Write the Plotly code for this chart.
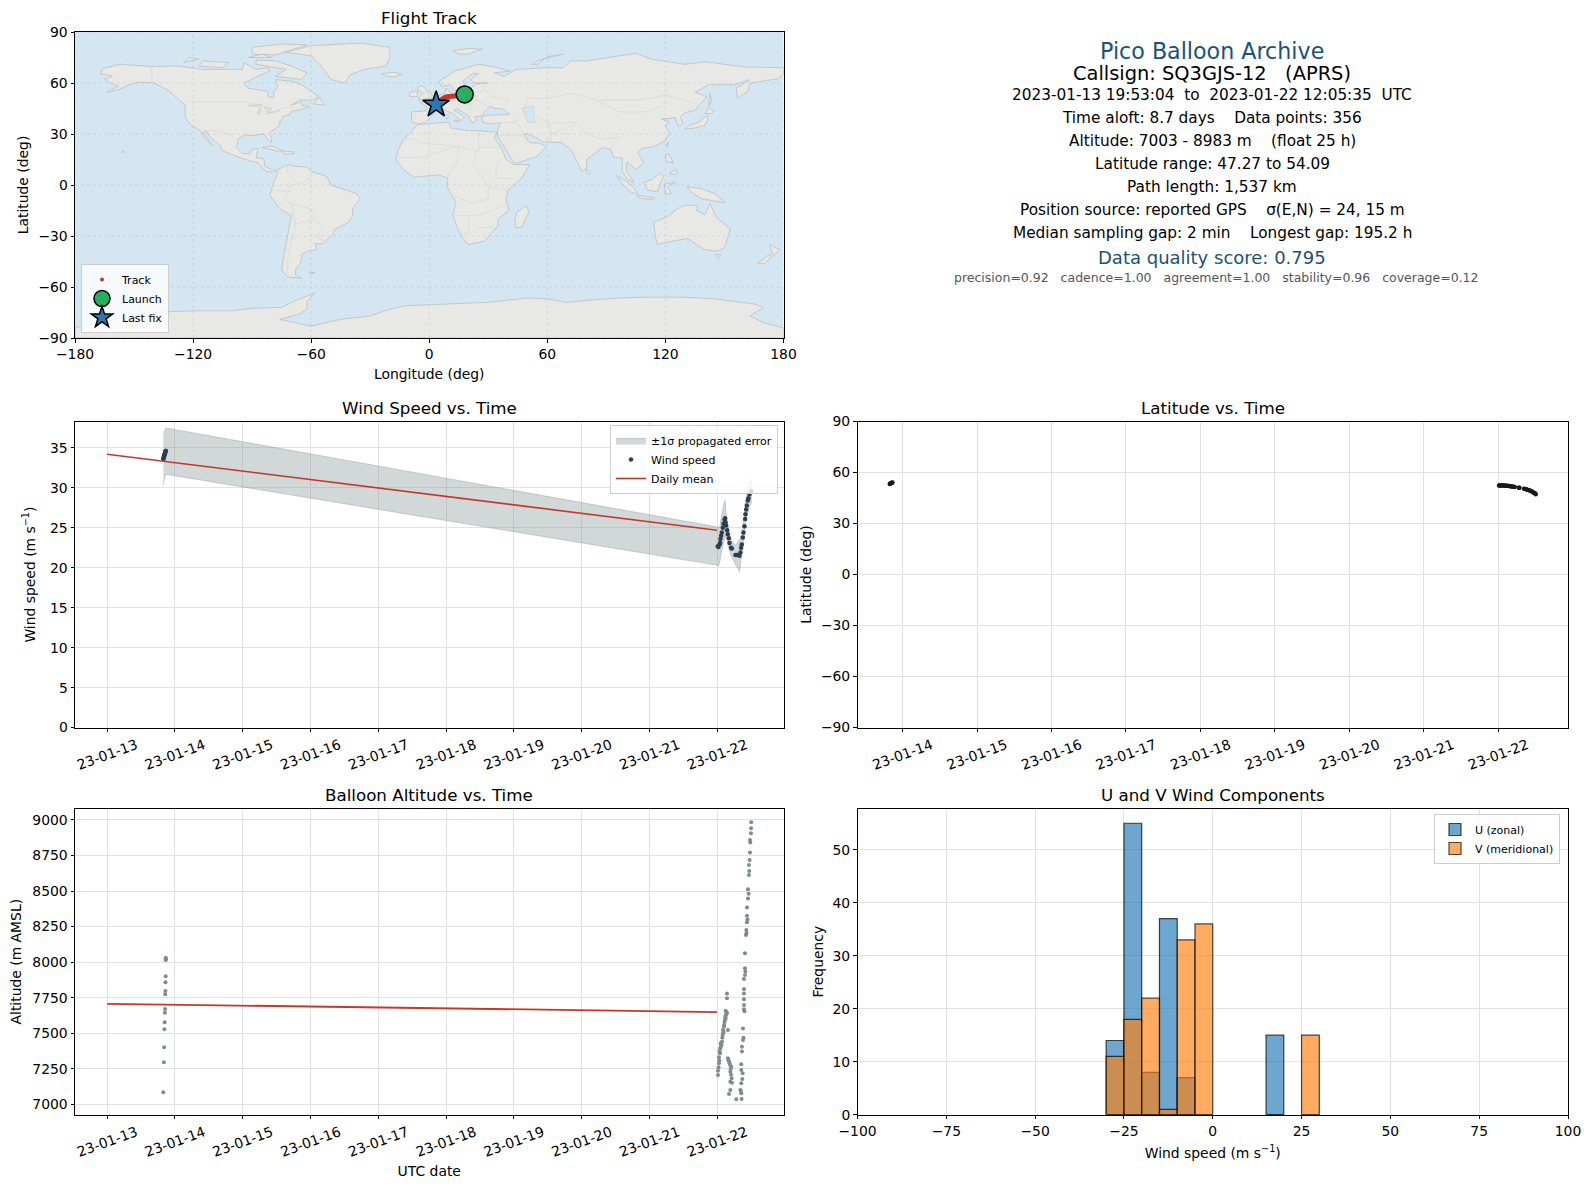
import pandas as pd
import plotly.graph_objects as go

PAGE_W, PAGE_H = 1589, 1189
BODY_MARGIN = 8
FONT = "DejaVu Sans"

# ---- map outlines (lon, lat) ----
NORTH_AMERICA = [(-166,68.5),(-157,71),(-141,69.7),(-128,70),(-115,68),(-108,68),(-95,68),(-94,72),(-88,68),(-82,69),(-81,67),(-87,64),(-94,60),(-92,57),(-82,55),(-82,52),(-79,51.5),(-79,55),(-77,57),(-78,62),(-70,61),(-65,59),(-61,56),(-56,52),(-60,50),(-66,50),(-70,47),(-65,49),(-65,47),(-61,46),(-66,44),(-70,43.5),(-71,41.5),(-74,40.5),(-76,37),(-76,35),(-81,31),(-80,27),(-80.5,25),(-82,27),(-84,30),(-90,29),(-94,29.5),(-97,27),(-98,22),(-95,18.5),(-91,18.5),(-90,21),(-87,21.5),(-88,16),(-84,15.5),(-83.5,11),(-80,9),(-77.5,8.5),(-79,7.5),(-83,8),(-87,13),(-92,14.5),(-96,16),(-105,20),(-106,23),(-112,29),(-113,31.5),(-115,31),(-110,23),(-112,25),(-115,29),(-117,32.5),(-121,35),(-124,40),(-124,47),(-128,51),(-133,56),(-140,60),(-148,60.5),(-152,59),(-158,56),(-164,54.5),(-158,58),(-162,60),(-165,62),(-161,64),(-167,65.5)]
SOUTH_AMERICA = [(-77.5,8.5),(-72,12),(-68,11),(-62,10.5),(-60,8),(-52,5),(-50,0),(-44,-2.5),(-37,-5),(-35,-8),(-39,-14),(-39,-18),(-41,-22),(-48,-26),(-49,-29),(-54,-34.5),(-58,-34.5),(-57,-38),(-62,-39),(-65,-41),(-65,-45),(-68,-50),(-68,-53),(-65,-55),(-72,-54),(-75,-50),(-74,-42),(-72,-30),(-70,-18),(-76,-14),(-81,-6),(-80,-2),(-79,2),(-77,7)]
AFRICA = [(-6,35.5),(10,37),(11,33.5),(20,32),(25,32),(32,31),(34.5,31),(33,28),(37,21),(39,15),(43,12),(51,12),(47,4),(40,-3),(39,-8),(40.5,-15),(35,-20),(35,-24),(32.5,-27),(28,-33),(20,-35),(18,-33),(15,-27),(12,-18),(13.5,-10),(9,-1),(9.5,4),(5,6),(-4,5),(-8,4.5),(-13,9),(-17,14.7),(-16,20),(-13,27),(-10,30)]
EURASIA = [(-9,37),(-9,43),(-2,43.5),(-1,46),(-4.5,48.5),(2,51),(8,54),(8.5,57),(11,54),(20,54.5),(21.5,57.5),(24,59.5),(30,60),(23,60),(21,62),(25,65.5),(22,65.5),(17,61),(18,59.5),(16,56),(13,55.5),(11,59),(6,58),(5,61),(13,67),(25,71),(33,69.5),(41,67),(33,66),(38,64),(44,68),(60,69),(68,69),(72,73),(80,73),(105,77.5),(113,74),(130,71),(140,72.5),(160,69.5),(180,69),(180,65),(177,62.5),(163,60),(162,55),(156.5,51),(156,57),(163,62),(155,59),(142,59),(135,54.5),(141,52),(135,44),(130,42.5),(127.5,40),(129,36),(126.5,34.5),(125,39.5),(121,39),(118,39),(122,37),(120,35),(122,31),(120,26),(114,22.5),(108,21.5),(106,19),(109,13),(105,9),(100.5,13.5),(100,9),(104,1.5),(101,3),(98,8),(98,16),(94,16),(92,21),(88,22),(80,15),(80,10),(77.5,8),(73,18),(72,21),(67,25),(57,25.5),(56,27),(50,30),(48,30),(51,25),(56,24.5),(59.5,22.5),(55,17),(45,13),(43,13),(39,21),(35,28),(34.5,31),(36,36.5),(30,36),(27,37),(26.5,40),(29,41),(41,41.5),(37,45),(33,45),(31,46.5),(28,43),(26,40.5),(23,40),(24,38),(22,36.5),(19.5,41),(14,45),(12.5,44),(18,40),(16,38),(12,42),(8,44),(3,43),(0,39),(-2,36.8),(-5.5,36)]
GREENLAND = [(-73,78),(-60,82),(-35,83.5),(-20,81),(-20,75),(-22,70),(-33,68),(-40,65),(-43,60),(-50,62),(-53,67),(-55,70),(-60,76)]
ANTARCTICA = [(-180,-84),(-150,-77),(-142,-75),(-120,-74),(-100,-74),(-90,-72.5),(-75,-72),(-68,-68),(-58,-63.5),(-62,-68),(-62,-73),(-66,-76),(-76,-79),(-60,-83),(-45,-79),(-30,-77),(-20,-73),(-12,-71),(10,-70),(30,-69),(50,-66.5),(60,-67),(70,-69),(78,-68),(96,-66.5),(110,-66),(130,-66),(145,-67),(165,-70),(170,-72),(163,-77),(170,-81),(180,-84),(180,-90),(-180,-90)]
AUSTRALIA = [(114,-22),(122,-18),(126,-14),(130,-12),(136,-12),(136,-15),(140,-17.5),(142.5,-11),(146,-19),(153,-26),(150,-37),(146,-39),(140,-38),(136,-35),(131,-31.5),(124,-33),(116,-35),(115,-31)]
ISLANDS = [
    [(-5.5,50),(1.5,51.2),(1.5,53),(-1.5,55.5),(-2,57.5),(-5,58.6),(-6,56),(-3,54),(-5,52)],
    [(-10,52),(-6,52),(-6,55),(-8,55.3),(-10,54)],
    [(-24,65.5),(-18,66.3),(-14,65),(-18,63.5),(-22,64)],
    [(12,79),(20,80.3),(27,80),(20,77),(15,77)],
    [(52,71),(56,73.5),(68,77),(60,75.5),(55,71)],
    [(49.5,-12),(50.5,-16),(47,-25),(44,-25),(43.5,-21),(44.5,-16)],
    [(80,9.5),(82,7),(80.5,6),(79.7,8)],
    [(95,5.5),(100,2.5),(104,-1.5),(106,-5.5),(102,-4),(98,1)],
    [(105.5,-6),(114.5,-7.5),(114,-8.7),(106,-7.5)],
    [(109,1.5),(113,3),(117,7),(119,5),(117.5,1),(116,-4),(111,-3)],
    [(119.5,0.5),(125,1.5),(121,-1),(123,-5),(120,-5.5)],
    [(131,-1),(138,-2),(145,-5),(150.5,-10.5),(143,-9),(138,-8),(133,-4)],
    [(120,18),(122,18),(124,13),(120.5,14)],
    [(122,7),(125.5,9.5),(126,6.5),(124,6)],
    [(120.2,23),(121.5,25.2),(121,22)],
    [(130,33),(135,33.5),(140,35),(141.5,38),(141.5,41),(140,40),(137,37),(132,35)],
    [(140,42),(142,45.5),(145,43.5),(143,42)],
    [(142,46),(142.5,54),(143.5,50)],
    [(145,-41),(148,-41),(147,-43.5)],
    [(173,-35),(178,-38),(175,-41.5),(174,-39)],
    [(172.5,-41),(174,-42),(170,-46.5),(167,-46)],
    [(-85,22),(-80,23),(-74,20),(-77,20)],
    [(-74,20),(-69,19.5),(-68.5,18.5),(-74,18)],
    [(-59,47.7),(-56,51.5),(-53,47)],
    [(-62,66),(-65,62),(-78,64),(-73,68),(-88,71),(-88,73.5),(-78,73),(-70,70)],
    [(-117,70),(-105,69),(-102,72),(-115,73)],
    [(-125,72),(-117,74),(-122,75)],
    [(-90,77),(-78,76.5),(-62,82.5),(-75,83),(-90,81)],
    [(-92,75),(-80,75),(-85,77)],
    [(12.5,38),(15.5,38),(15,36.7)],
    [(8.2,41),(9.7,41),(9.5,39),(8.5,39)],
    [(-61,-51.5),(-58,-51.5),(-59,-52.3)],
    [(-156,20),(-155,19.5),(-156,19)],
]
INLAND_WATER = [
    [(47,45),(53,46.5),(53,40),(54,37),(50,37),(49,41)],
    [(-92,46.7),(-85,47.5),(-85,46.5)],
    [(-87.5,42),(-85.5,45.5),(-86,42)],
    [(-84,46),(-80,45),(-82,43)],
    [(-83,42),(-76,43.7),(-79,43)],
]
BORDERS = [
    [(-123,49),(-95,49),(-89,48),(-83,46),(-82,43),(-79,43),(-75,45),(-70,46),(-67,45)],
    [(-141,69.7),(-141,60)],
    [(-117,32.5),(-106,31.5),(-101,29.5),(-97,26)],
    [(-60,5),(-65,1),(-70,0),(-74,-8),(-70,-11),(-60,-14),(-58,-20),(-54,-25),(-57,-30),(-53,-33.5)],
    [(-69,-18),(-68,-23),(-70,-33),(-72,-45),(-72,-52)],
    [(-70,-11),(-69,-18)], [(-80,-3),(-70,-4)], [(-72,12),(-72,7),(-67,1)], [(-68,-23),(-58,-20)],
    [(-13,27),(-8,27),(-5,25),(12,23),(25,20),(25,32)], [(25,22),(37,22)],
    [(-16,16),(-5,16),(4,19),(15,23)], [(15,23),(14,13),(9,4.5)],
    [(24,20),(22,12),(27,5),(30,-1),(30,-8),(22,-11),(12,-6)], [(30,-1),(40,-3)],
    [(34,10),(36,15)], [(34,10),(34,4),(42,4)],
    [(12,-18),(24,-18),(33,-15),(40,-11)], [(20,-18),(20,-28),(17,-29)], [(25,-25),(33,-25)],
    [(28,60),(28,56),(32,52),(40,50),(38,47)], [(48,42),(50,51),(60,51),(72,54),(85,50),(98,50),(108,50),(120,53),(135,48),(131,43)],
    [(85,50),(96,43),(110,43),(120,47)], [(62,25),(62,30),(71,34),(75,37),(80,30),(88,27),(97,28),(92,22)],
    [(44,39),(46,34),(48,30)], [(61,36),(62,30)], [(35,29),(47,29),(52,24)], [(36,36.5),(44,37)],
    [(54,41),(61,36),(75,37)], [(2,51),(8,48),(7,44)], [(-2,43.5),(3,42.5)],
    [(14,54),(15,51),(24,50),(23,54),(28,56)], [(24,50),(30,46)], [(14,46),(22,48),(20,42)],
]

MAP_LON_TICKS = [-180, -120, -60, 0, 60, 120, 180]
MAP_LAT_TICKS = [-90, -60, -30, 0, 30, 60, 90]

TRACK_LON = [17.9,17.6,17.3,13.0,12.0,11.0,10.0,9.0,8.0,7.0,6.0,5.5,5.0,4.5,4.0,3.5]
TRACK_LAT = [53.3,53.8,54.09,52.4,52.4,52.3,52.2,51.9,51.6,51.0,50.3,49.9,49.3,48.7,48.0,47.27]
LAUNCH = (18.0, 53.3)
LAST_FIX = (3.5, 47.27)

# ---- time series: minutes after the start of each cluster ----
START_A = "2023-01-13 19:53:04"
START_B = "2023-01-22 00:00:00"

WIND_MIN_A = [0,4,8,13,18,23,28,33,38,43,48,52]
WIND_A = [33.6,33.7,33.8,33.9,34.0,34.1,34.2,34.3,34.4,34.5,34.6,34.6]
WIND_SIG_A = [3.3,3.2,3.1,3.0,3.0,2.9,2.9,2.9,2.9,2.9,2.9,2.9]
WIND_MIN_B = [15,28,50,64,71,85,99,120,135,156,170,177,191,212,227,248,262,297,311,389,425,474,495,510,524,545,559,581,595,602,616,630,651,665,687,725]
WIND_B = [22.7,22.6,22.9,23.1,23.6,24.0,24.4,25.0,25.5,26.0,26.2,25.7,25.3,24.7,24.2,23.7,23.1,22.5,22.4,21.6,21.6,21.5,21.9,22.5,22.9,23.8,24.4,25.2,26.1,26.7,27.3,27.8,28.4,28.7,29.2,29.6]
WIND_SIG_B = [2.4,2.4,2.2,2.2,2.2,2.3,2.3,2.3,2.3,2.3,2.2,1.8,1.5,1.2,1.1,1.0,1.0,1.0,1.0,1.2,1.5,2.0,1.8,1.5,1.2,1.1,1.1,1.1,1.2,1.2,1.3,1.3,1.4,1.5,1.5,1.5]
WIND_MEAN_DAYS = ["2023-01-13", "2023-01-22"]
WIND_MEAN = [34.2, 24.7]

LAT_MIN_A = [0,10,20,30,40,52]
LAT_A = [53.3,53.5,53.7,53.8,54.0,54.09]
LAT_MIN_B = [15,30,45,60,80,100,120,140,160,180,200,220,240,260,280,300,320,400,410,500,520,540,560,580,600,620,640,660,680,700,715,725]
LAT_B = [52.4,52.4,52.4,52.4,52.3,52.3,52.3,52.2,52.2,52.2,52.1,52.0,51.9,51.8,51.7,51.6,51.5,51.1,51.0,50.4,50.3,50.1,49.9,49.7,49.5,49.3,49.0,48.7,48.3,47.9,47.6,47.27]

ALT_MIN_A = [0,10,18,22,28,32,36,40,43,46,49,50,51,52,52]
ALT_A = [7086,7297,7402,7529,7578,7645,7671,7775,7798,7859,7901,8015,8025,8032,8020]
ALT_MIN_B = [18,18,39,39,60,67,74,103,117,124,145,159,181,209,181,209,209,230,230,265,301,280,280,315,280,251,407,513,492,513,513,513,527,527,549,549,570,570,570,570,570,570,591,591,591,612,620,634,634,634,655,655,676,676,690,697,697,719,722,725,
             30,45,52,80,90,110,130,138,150,165,172,190,198,240,255,272,288,295,308,505,520,535,542,560,580,600,625,645,668,683,705]
ALT_B = [7208,7238,7290,7332,7360,7395,7430,7442,7489,7524,7547,7582,7606,7641,7659,7746,7781,7524,7325,7290,7266,7231,7161,7154,7102,7074,7037,7079,7102,7149,7243,7283,7372,7407,7454,7535,7669,7699,7739,7781,7812,7882,7910,7957,8062,8191,8226,8280,8327,8385,8448,8512,8612,8682,8718,8771,8858,8905,8940,8982,
         7262,7310,7375,7410,7422,7470,7505,7512,7560,7595,7618,7630,7648,7312,7300,7280,7250,7210,7185,7095,7040,7180,7220,7470,7655,7935,8205,8300,8480,8640,8840]
ALT_MEAN_DAYS = ["2023-01-13", "2023-01-22"]
ALT_MEAN = [7708, 7650]

# ---- histogram ----
BIN_CENTERS = [-27.5, -22.5, -17.5, -12.5, -7.5, -2.5, 17.5, 27.5]
U_COUNTS = [14, 55, 8, 37, 7, 0, 15, 0]
V_COUNTS = [11, 18, 22, 1, 33, 36, 0, 15]

INFO_LINES = [
    ("Pico Balloon Archive", 22.2, "#1a5276", 51, 0),
    ("Callsign: SQ3GJS-12   (APRS)", 19.4, "#000000", 73, 0),
    ("2023-01-13 19:53:04  to  2023-01-22 12:05:35  UTC", 15.3, "#000000", 95, 0),
    ("Time aloft: 8.7 days    Data points: 356", 15.3, "#000000", 118, 0),
    ("Altitude: 7003 - 8983 m    (float 25 h)", 15.3, "#000000", 141, 0),
    ("Latitude range: 47.27 to 54.09", 15.3, "#000000", 164, 0),
    ("Path length: 1,537 km", 15.3, "#000000", 187, 0),
    ("Position source: reported GPS    σ(E,N) = 24, 15 m", 15.3, "#000000", 210, 0),
    ("Median sampling gap: 2 min    Longest gap: 195.2 h", 15.3, "#000000", 233, 0),
    ("Data quality score: 0.795", 18, "#1a5276", 257, 0),
    ("precision=0.92   cadence=1.00   agreement=1.00   stability=0.96   coverage=0.12", 12.5, "#555555", 277, 4),
]


def times(start, minutes):
    return [pd.Timestamp(start) + pd.Timedelta(minutes=m) for m in minutes]


def polygon_xy(polys):
    xs, ys = [], []
    for poly in polys:
        xs += [p[0] for p in poly] + [poly[0][0], None]
        ys += [p[1] for p in poly] + [poly[0][1], None]
    return xs, ys


def open_xy(lines):
    xs, ys = [], []
    for line in lines:
        xs += [p[0] for p in line] + [None]
        ys += [p[1] for p in line] + [None]
    return xs, ys


# pixel helpers, page px -> paper fraction
def px(x):
    return (x - BODY_MARGIN) / (PAGE_W - BODY_MARGIN)


def py(y):
    return 1 - (y - BODY_MARGIN) / (PAGE_H - BODY_MARGIN)


COL1 = [px(75), px(783.5)]
COL2 = [px(857.5), px(1568)]
ROW1 = [py(338), py(32)]
ROW2 = [py(727.6), py(421.5)]
ROW3 = [py(1114.7), py(808.7)]

fig = go.Figure()

# map
land = [NORTH_AMERICA, SOUTH_AMERICA, AFRICA, EURASIA, GREENLAND, ANTARCTICA, AUSTRALIA] + ISLANDS
lx, ly = polygon_xy(land)
fig.add_trace(go.Scatter(x=lx, y=ly, mode="lines", fill="toself", fillcolor="#e8e8e4",
                         line=dict(color="#c3c8ca", width=1), showlegend=False, hoverinfo="skip"))
wx, wy = polygon_xy(INLAND_WATER)
fig.add_trace(go.Scatter(x=wx, y=wy, mode="lines", fill="toself", fillcolor="#d4e6f1",
                         line=dict(color="#c3c8ca", width=0.6), showlegend=False, hoverinfo="skip"))
bx, by = open_xy(BORDERS)
fig.add_trace(go.Scatter(x=bx, y=by, mode="lines", line=dict(color="#d9d9d5", width=0.8),
                         showlegend=False, hoverinfo="skip"))
gx, gy = open_xy([[(lon, -90), (lon, 90)] for lon in MAP_LON_TICKS] + [[(-180, lat), (180, lat)] for lat in MAP_LAT_TICKS])
fig.add_trace(go.Scatter(x=gx, y=gy, mode="lines", line=dict(color="rgba(120,120,120,0.2)", width=0.7, dash="dot"),
                         showlegend=False, hoverinfo="skip"))
fig.add_trace(go.Scatter(x=TRACK_LON, y=TRACK_LAT, mode="lines", showlegend=False, hoverinfo="skip",
                         line=dict(color="#c0392b", width=5)))
fig.add_trace(go.Scatter(x=TRACK_LON, y=TRACK_LAT, mode="markers", name="Track", legend="legend",
                         marker=dict(color="#c0392b", size=4)))
fig.add_trace(go.Scatter(x=[LAUNCH[0]], y=[LAUNCH[1]], mode="markers", name="Launch", legend="legend",
                         marker=dict(color="#27ae60", size=17, line=dict(color="black", width=1.5))))
fig.add_trace(go.Scatter(x=[LAST_FIX[0]], y=[LAST_FIX[1]], mode="markers", name="Last fix", legend="legend",
                         marker=dict(color="#2878b5", size=20, symbol="star", line=dict(color="black", width=1.5))))

# wind speed
wind_t = times(START_A, WIND_MIN_A) + times(START_B, WIND_MIN_B)
wind_v = WIND_A + WIND_B
wind_s = WIND_SIG_A + WIND_SIG_B
upper = [v + s for v, s in zip(wind_v, wind_s)]
lower = [v - s for v, s in zip(wind_v, wind_s)]
fig.add_trace(go.Scatter(x=wind_t + wind_t[::-1], y=upper + lower[::-1], mode="lines", fill="toself",
                         fillcolor="rgba(127,140,141,0.35)", line=dict(color="rgba(127,140,141,0.35)", width=1),
                         name="±1σ propagated error", xaxis="x2", yaxis="y2", legend="legend2"))
fig.add_trace(go.Scatter(x=wind_t, y=wind_v, mode="markers", name="Wind speed", xaxis="x2", yaxis="y2",
                         legend="legend2", marker=dict(color="#2c3e50", size=4.5)))
fig.add_trace(go.Scatter(x=WIND_MEAN_DAYS, y=WIND_MEAN, mode="lines", name="Daily mean", xaxis="x2", yaxis="y2",
                         legend="legend2", line=dict(color="#c0392b", width=1.6)))

# latitude
fig.add_trace(go.Scatter(x=times(START_A, LAT_MIN_A) + times(START_B, LAT_MIN_B), y=LAT_A + LAT_B, mode="markers",
                         xaxis="x3", yaxis="y3", showlegend=False, marker=dict(color="#151a1e", size=4.5)))

# altitude
fig.add_trace(go.Scatter(x=times(START_A, ALT_MIN_A) + times(START_B, ALT_MIN_B), y=ALT_A + ALT_B, mode="markers",
                         xaxis="x4", yaxis="y4", showlegend=False, marker=dict(color="#7f8c8d", size=4)))
fig.add_trace(go.Scatter(x=ALT_MEAN_DAYS, y=ALT_MEAN, mode="lines", xaxis="x4", yaxis="y4", showlegend=False,
                         line=dict(color="#c0392b", width=1.8)))

# histogram
fig.add_trace(go.Bar(x=BIN_CENTERS, y=U_COUNTS, width=5, name="U (zonal)", xaxis="x5", yaxis="y5", legend="legend3",
                     marker=dict(color="rgba(31,119,180,0.65)", line=dict(color="rgba(0,0,0,0.7)", width=1.2))))
fig.add_trace(go.Bar(x=BIN_CENTERS, y=V_COUNTS, width=5, name="V (meridional)", xaxis="x5", yaxis="y5", legend="legend3",
                     marker=dict(color="rgba(255,127,14,0.65)", line=dict(color="rgba(0,0,0,0.7)", width=1.2))))

axis_style = dict(showline=True, mirror=True, linecolor="black", linewidth=1, ticks="outside", ticklen=3.5,
                  tickcolor="black", gridcolor="#e2e2e2", gridwidth=1, zeroline=False, automargin=False,
                  tickfont=dict(family=FONT, size=13.9, color="black"),
                  title_font=dict(family=FONT, size=13.9, color="black"))
date_style = dict(type="date", tickformat="%y-%m-%d", dtick=86400000, tick0="2023-01-13", tickangle=-20,
                  ticklabelshift=29)

fig.update_layout(
    width=PAGE_W - BODY_MARGIN, height=PAGE_H - BODY_MARGIN, margin=dict(l=0, r=0, t=0, b=0),
    paper_bgcolor="white", plot_bgcolor="white", barmode="overlay", font=dict(family=FONT, color="black"),
    xaxis=dict(axis_style, domain=COL1, anchor="y", range=[-180, 180], dtick=60, showgrid=False,
               title=dict(text="Longitude (deg)", standoff=8)),
    yaxis=dict(axis_style, domain=ROW1, anchor="x", range=[-90, 90], dtick=30, showgrid=False,
               title=dict(text="Latitude (deg)", standoff=6)),
    xaxis2=dict(axis_style, **date_style, domain=COL1, anchor="y2", range=["2023-01-12 12:36", "2023-01-22 23:30"]),
    yaxis2=dict(axis_style, domain=ROW2, anchor="x2", range=[0, 38.3], dtick=5,
                title=dict(text="Wind speed (m s<sup>−1</sup>)", standoff=11)),
    xaxis3=dict(axis_style, **date_style, domain=COL2, anchor="y3", range=["2023-01-13 09:29", "2023-01-22 22:29"]),
    yaxis3=dict(axis_style, domain=ROW2, anchor="x3", range=[-90, 90], dtick=30,
                title=dict(text="Latitude (deg)", standoff=6)),
    xaxis4=dict(axis_style, **date_style, domain=COL1, anchor="y4", range=["2023-01-12 12:36", "2023-01-22 23:30"],
                title=dict(text="UTC date", standoff=7)),
    yaxis4=dict(axis_style, domain=ROW3, anchor="x4", range=[6929, 9078], dtick=250,
                title=dict(text="Altitude (m AMSL)", standoff=8)),
    xaxis5=dict(axis_style, domain=COL2, anchor="y5", range=[-100, 100], dtick=25,
                title=dict(text="Wind speed (m s<sup>−1</sup>)", standoff=10)),
    yaxis5=dict(axis_style, domain=ROW3, anchor="x5", range=[0, 57.75], dtick=10,
                title=dict(text="Frequency", standoff=5)),
    legend=dict(x=px(81), y=py(333), xanchor="left", yanchor="bottom", bgcolor="rgba(255,255,255,0.8)",
                bordercolor="#cccccc", borderwidth=1, font=dict(size=11, family=FONT), tracegroupgap=0),
    legend2=dict(x=px(778), y=py(425), xanchor="right", yanchor="top", bgcolor="rgba(255,255,255,0.8)",
                 bordercolor="#cccccc", borderwidth=1, font=dict(size=11, family=FONT), tracegroupgap=0),
    legend3=dict(x=px(1560), y=py(814), xanchor="right", yanchor="top", bgcolor="rgba(255,255,255,0.8)",
                 bordercolor="#cccccc", borderwidth=1, font=dict(size=11, family=FONT), tracegroupgap=0),
)

# ocean behind the land
fig.add_shape(type="rect", xref="x", yref="y", x0=-180, x1=180, y0=-90, y1=90,
              fillcolor="#d4e6f1", line_width=0, layer="below")

# subplot titles
for title, col, row in [("Flight Track", COL1, ROW1), ("Wind Speed vs. Time", COL1, ROW2),
                        ("Latitude vs. Time", COL2, ROW2), ("Balloon Altitude vs. Time", COL1, ROW3),
                        ("U and V Wind Components", COL2, ROW3)]:
    fig.add_annotation(text=title, x=sum(col) / 2, y=row[1], xref="paper", yref="paper", xanchor="center",
                       yanchor="bottom", yshift=2, showarrow=False, font=dict(family=FONT, size=16.7, color="black"))

# info panel
for text, size, color, y, shift in INFO_LINES:
    fig.add_annotation(text=text, x=px(1212), y=py(y), xref="paper", yref="paper", xanchor="center", yanchor="middle",
                       xshift=shift, showarrow=False, font=dict(family=FONT, size=size, color=color))

fig.write_html("out.html")
